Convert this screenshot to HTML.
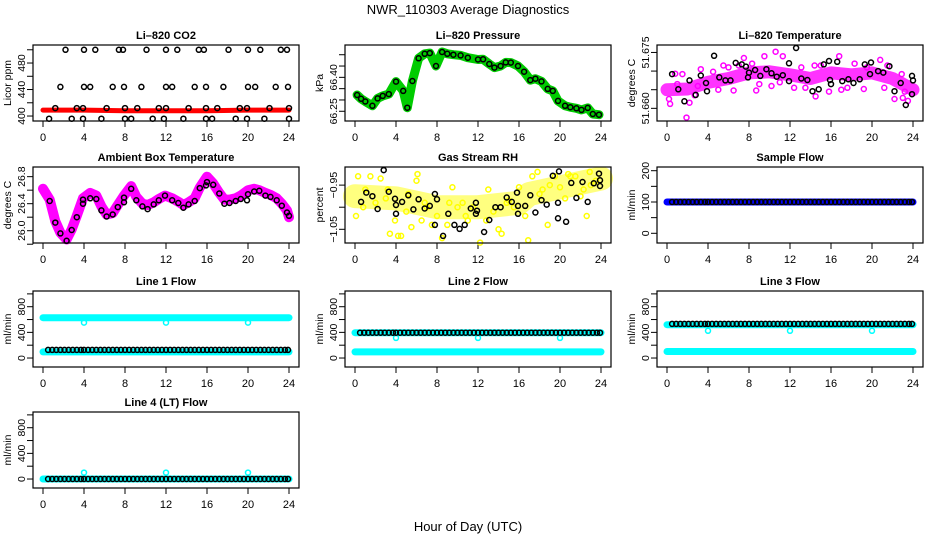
<!DOCTYPE html>
<html><head><meta charset="utf-8"><title>NWR_110303 Average Diagnostics</title>
<style>
html,body{margin:0;padding:0;background:#fff;}
svg{display:block;font-family:"Liberation Sans",Arial,sans-serif;}
</style></head>
<body>
<svg id="chart" width="936" height="540" viewBox="0 0 936 540" xmlns="http://www.w3.org/2000/svg">
<rect x="0" y="0" width="936" height="540" fill="#fff"/>
<text x="468" y="14" font-size="13" text-anchor="middle">NWR_110303  Average Diagnostics</text>
<text x="468" y="531" font-size="13" text-anchor="middle">Hour of Day (UTC)</text>
</svg>
<script>
// ---------- data ----------
const xTicks=[0,4,8,12,16,20,24];
// CO2
const co2Hours=[2.2,4,5.1,7.4,7.8,10.1,12,13.1,15.2,15.7,18.1,20,21.2,23.2,23.8,1.7,4,4.6,6.8,7.9,9.6,12,12.6,14.8,15.9,17.6,20,20.7,22.7,23.9,1.2,3.3,3.9,6.2,8,9.2,11.3,12,14.2,15.9,17,19.2,19.9,22.1,24,0.6,2.8,3.9,5.7,8,8.6,10.7,11.8,13.7,15.9,16.5,18.8,19.9,21.6,24];
const co2Values=[500,500,500,500,500,500,500,500,500,500,500,500,500,500,500,444,444,444,444,444,444,444,444,444,444,444,444,444,444,444,412,412,412,412,412,412,412,412,412,412,412,412,412,412,412,396,396,396,396,396,396,396,396,396,396,396,396,396,396,396];
const co2RedHours=[0,4,8,12,16,20,24];
const co2RedValues=[409,409,408,408,408,409,409];
// Pressure
const presHours=[0.2,0.6,1,1.7,2.2,2.7,3.3,4,4.7,5.1,5.6,6.2,6.8,7.3,7.9,8.5,9,9.6,10.3,11,12,12.5,13.1,13.6,14.2,14.7,15.2,15.9,16.5,17.1,17.6,18.2,18.8,19.3,19.8,20.5,21,21.6,22.1,22.7,23.2,23.8];
const presValues=[66.322,66.305,66.293,66.274,66.307,66.318,66.326,66.381,66.34,66.266,66.384,66.484,66.504,66.507,66.45,66.512,66.504,66.5,66.497,66.487,66.479,66.48,66.459,66.443,66.45,66.466,66.465,66.45,66.425,66.388,66.394,66.382,66.349,66.34,66.296,66.274,66.268,66.263,66.256,66.265,66.238,66.235];
// Li-820 Temperature
const tempBandHours=[0,2,4,6,8,10,12,14,16,18,20,22,24];
const tempBandValues=[51.665,51.6652,51.667,51.668,51.6695,51.6698,51.669,51.668,51.6695,51.669,51.6695,51.668,51.665];
const tempMagHours=[0.2,0.3,0.8,1.5,1.9,2.2,2.7,3.3,4.5,5.5,6.5,7,7.5,8.3,8.7,9.5,10.2,10.6,11.3,12.4,13.1,14.4,14.5,15,15.8,16.8,17.6,18.3,19.2,20.8,21.2,21.5,22.2,22.9,23,23.5,23.2,5,6,13.5,17,19.5,1,3,9,11];
const tempMagValues=[51.6625,51.6612,51.6693,51.6692,51.6575,51.6615,51.6635,51.6705,51.6698,51.6715,51.6648,51.6715,51.6735,51.672,51.6648,51.674,51.666,51.6752,51.674,51.6655,51.671,51.6715,51.6632,51.6715,51.6645,51.674,51.6655,51.672,51.6652,51.673,51.6655,51.6715,51.6625,51.6692,51.6628,51.662,51.6645,51.665,51.671,51.6655,51.665,51.671,51.6665,51.666,51.6665,51.667];
const tempBlkHours=[0.5,1.1,1.7,2.2,2.8,3.3,3.8,3.9,4.6,5.1,5.7,6.2,6.7,7.3,7.7,7.9,8,8.6,9.1,9.7,10.2,10.7,11.3,11.9,11.9,12.6,13.1,13.7,14.2,14.8,15.3,15.8,15.9,16,16.6,17.1,17.7,18.2,18.8,19.3,19.9,19.8,20.6,21.1,21.7,22.2,22.8,23.3,23.9,23.9,24];
const tempBlkValues=[51.6692,51.6651,51.6619,51.6675,51.6636,51.6688,51.6668,51.6646,51.6741,51.6683,51.6675,51.6675,51.6722,51.6718,51.6712,51.6683,51.6696,51.6703,51.6687,51.6705,51.6694,51.6685,51.6689,51.6721,51.6673,51.6762,51.668,51.6676,51.6646,51.6651,51.6718,51.6727,51.6676,51.6665,51.6725,51.6673,51.6678,51.6668,51.6678,51.6718,51.6723,51.6692,51.67,51.6696,51.6713,51.6646,51.6668,51.6609,51.6638,51.6687,51.6675];
// Ambient box temperature
const ambMagHours=[0,0.65,1.2,1.7,2.3,2.8,3.3,3.9,4.6,5.2,5.7,6.2,6.8,7.3,7.9,8.6,9.1,9.7,10.2,10.8,11.3,11.9,12.6,13.2,13.7,14.2,14.8,15.3,16,16.6,17.2,17.7,18.2,18.8,19.3,20,20.6,21.1,21.7,22.2,22.8,23.3,23.8,24];
const ambMagValues=[26.62,26.46,26.14,25.97,25.87,26.02,26.22,26.48,26.56,26.52,26.36,26.24,26.26,26.38,26.52,26.66,26.5,26.4,26.38,26.42,26.47,26.52,26.48,26.43,26.38,26.42,26.48,26.64,26.8,26.7,26.56,26.46,26.46,26.48,26.52,26.6,26.62,26.6,26.56,26.53,26.48,26.4,26.3,26.2];
const ambBlkHours=[0.65,1.2,1.7,2.3,2.8,3.3,3.9,3.9,4.6,5.2,5.7,6.2,6.8,7.3,7.9,7.9,8.6,9.1,9.7,10.2,10.8,11.3,11.9,12.6,13.2,13.7,14.2,14.8,15.3,15.9,16,16.6,17.2,17.7,18.2,18.8,19.3,19.9,20,20.6,21.1,21.7,22.2,22.8,23.3,23.8,24];
const ambBlkValues=[26.44,26.12,25.96,25.85,26.01,26.2,26.46,26.4,26.48,26.47,26.3,26.21,26.24,26.35,26.49,26.42,26.62,26.45,26.36,26.32,26.39,26.45,26.52,26.45,26.41,26.34,26.39,26.44,26.63,26.67,26.72,26.68,26.55,26.4,26.41,26.44,26.47,26.45,26.54,26.58,26.59,26.52,26.5,26.45,26.37,26.27,26.22];
// Gas stream RH
const rhBandHours=[0,4,8,12,16,17,20,24];
const rhBandValues=[-0.975,-0.98,-1.0,-1.0,-0.99,-0.97,-0.955,-0.935];
const rhYelHours=[0.1,0.3,1,1.5,2.5,3.2,3.4,3.9,4.2,4.5,5,5.5,6,6.1,6.5,7,7.5,8.5,9,9.5,10,10.5,11,12.2,12.8,13,14,14.3,15,16,16.6,16.9,17.3,17.8,18.3,18.8,19.5,20,20.8,21.5,22,22.6,22.9,23.5,2,5.2,8,9.2,11.5,13.5,15.5,18,20.5,21,23,0.8,3,6.8,10.8,14.8,19,22.3];
const rhYelValues=[-1.02,-0.93,-0.96,-0.93,-0.935,-0.96,-1.06,-1.03,-1.065,-1.065,-1.01,-1.045,-0.94,-0.925,-1.03,-1.0,-1.04,-1.07,-1.04,-0.955,-1.0,-0.99,-1.03,-1.08,-1.03,-0.96,-1.05,-1.06,-0.985,-0.955,-1.02,-1.075,-0.93,-0.92,-0.96,-1.04,-0.93,-0.955,-0.925,-0.93,-0.975,-1.02,-0.92,-0.94,-0.99,-0.97,-1.02,-0.99,-1.0,-1.01,-1.0,-0.97,-0.98,-0.93,-0.95,-1.0,-0.98,-0.99,-1.02,-0.99,-0.95,-0.96];
const rhBlkHours=[0.6,1.1,1.7,2.2,2.8,3.3,3.9,4,4,4.6,5.2,5.7,6.2,6.8,7.3,7.8,8,7.8,8.6,9.1,9.7,10.2,10.7,11.3,11.8,11.9,11.8,12.6,13.1,13.7,14.2,14.8,15.3,15.8,15.9,15.9,16.6,17.1,17.6,18.2,18.7,19.3,19.8,19.9,19.8,20.6,21.1,21.6,22.2,22.7,23.3,23.8,23.9,23.9];
const rhBlkValues=[-0.988,-0.967,-0.975,-1.004,-0.916,-0.965,-0.981,-0.995,-1.015,-0.988,-0.973,-1.005,-0.982,-1.003,-0.997,-0.97,-0.982,-1.04,-1.065,-1.015,-1.04,-1.049,-1.04,-1.003,-0.99,-1.008,-1.015,-1.056,-1.029,-1.0,-1.0,-0.978,-0.988,-0.967,-0.997,-1.015,-0.997,-0.973,-1.012,-0.984,-0.994,-0.929,-0.99,-0.919,-1.025,-1.033,-0.945,-0.979,-0.943,-0.988,-0.946,-0.924,-0.939,-0.952];
// Flows
const flowBlackTimes=[0.5,0.9,1.3,1.7,2.1,2.5,2.9,3.3,3.7,4.0,4.4,4.8,5.2,5.6,6.0,6.4,6.8,7.2,7.6,8.0,8.4,8.8,9.2,9.6,10.0,10.4,10.8,11.2,11.6,12.0,12.4,12.8,13.2,13.6,14.0,14.4,14.8,15.2,15.6,16.0,16.4,16.8,17.2,17.6,18.0,18.4,18.8,19.2,19.6,20.0,20.4,20.8,21.2,21.6,22.0,22.4,22.8,23.2,23.6,23.9];
const bandHours=[0,24];
const dipHours=[4,12,20];
const sampleBlue=[100,100];   const sampleBlack=[100];
const line1CyanUpper=[628,628]; const line1CyanLower=[96,96]; const line1Black=[127]; const line1Dips=[552,552,552];
const line2CyanUpper=[395,395]; const line2CyanLower=[96,96]; const line2Black=[395]; const line2Dips=[314,314,314];
const line3CyanUpper=[520,520]; const line3CyanLower=[101,101]; const line3Black=[532]; const line3Dips=[425,425,425];
const line4Cyan=[0,0]; const line4Black=[0]; const line4Dips=[100,100,100];

// ---------- drawing ----------
const NS='http://www.w3.org/2000/svg';
const svg=document.getElementById('chart');
function mk(tag,attrs,parent){const e=document.createElementNS(NS,tag);for(const k in attrs)e.setAttribute(k,attrs[k]);(parent||svg).appendChild(e);return e;}
const colLeft=[33,345,657], rowTop=[45,167,291,412], boxW=266, boxH=76;

function panel(p){
  const L=colLeft[p.col], T=rowTop[p.row], B=T+boxH, R=L+boxW;
  const g=mk('g',{});
  
  
  const x=h=>L+10+h/24*246;
  const y=v=>B-(v-p.ymin)/(p.ymax-p.ymin)*boxH;
  const t=mk('text',{x:L+boxW/2,y:T-6,'font-size':11,'font-weight':'bold','text-anchor':'middle'},g);
  t.textContent=p.title;
  
  
  const xa=mk('g',{stroke:'#000','stroke-width':1},g);
  
  
  mk('line',{x1:x(xTicks[0]),y1:B,x2:x(xTicks[xTicks.length-1]),y2:B},xa);
  xTicks.forEach(h=>{
    mk('line',{x1:x(h),y1:B,x2:x(h),y2:B+6},xa);
    const tl=mk('text',{x:x(h),y:B+20,'font-size':11,'text-anchor':'middle',stroke:'none'},g);
    tl.textContent=h;
    
    
  });
  const ya=mk('g',{stroke:'#000','stroke-width':1},g);
  
  
  mk('line',{x1:L,y1:y(p.ticks[0]),x2:L,y2:y(p.ticks[p.ticks.length-1])},ya);
  p.ticks.forEach(v=>mk('line',{x1:L-6,y1:y(v),x2:L,y2:y(v)},ya));
  p.labels.forEach((lab,i)=>{
    const yy=y(p.labelValues[i]);
    const tl=mk('text',{x:L-8,y:yy,'font-size':10.5,'text-anchor':'middle',transform:`rotate(-90 ${L-8} ${yy})`},g);
    tl.textContent=lab;
    
    
  });
  const yl=mk('text',{x:L-22,y:T+boxH/2,'font-size':10.5,'text-anchor':'middle',transform:`rotate(-90 ${L-22} ${T+boxH/2})`},g);
  yl.textContent=p.ylab;
  
  
  const plot=mk('g',{},g);
  
  
  const box=mk('rect',{x:L,y:T,width:boxW,height:boxH,fill:'none',stroke:'#000','stroke-width':1.2},g);
  
  
  return {x,y,plot,name:p.name};
}
function band(P,hs,vs,color,w,nm,op){
  const pts=hs.map((h,i)=>P.x(h).toFixed(1)+','+P.y(vs[i]).toFixed(1)).join(' ');
  const pl=mk('polyline',{points:pts,fill:'none',stroke:color,'stroke-width':w,'stroke-linejoin':'round','stroke-linecap':'round','stroke-opacity':op||1},P.plot);
  
  
}
function points(P,hs,vs,color,nm){
  const g=mk('g',{fill:'none',stroke:color,'stroke-width':1.5},P.plot);
  
  
  hs.forEach((h,i)=>{
    const c=mk('circle',{cx:P.x(h).toFixed(1),cy:P.y(vs[i]).toFixed(1),r:2.5},g);
    
    
  });
}
function levelPoints(P,hs,level,color,nm){points(P,hs,hs.map(()=>level[0]),color,nm);}

// Row 1
let P=panel({col:0,row:0,name:'co2',title:'Li\u2013820 CO2',ylab:'Licor ppm',ymin:392.5,ymax:507.2,ticks:[400,420,440,460,480,500],labels:['400','440','480'],labelValues:[400,440,480]});
band(P,co2RedHours,co2RedValues,'#ff0000',5,'red-series');
points(P,co2Hours,co2Values,'#000','black-series');

P=panel({col:1,row:0,name:'pressure',title:'Li\u2013820 Pressure',ylab:'kPa',ymin:66.207,ymax:66.543,ticks:[66.25,66.30,66.35,66.40,66.45,66.50],labels:['66.25','66.40'],labelValues:[66.25,66.40]});
band(P,presHours,presValues,'#00cc00',9,'green-series');
points(P,presHours,presValues,'#000','black-series');

P=panel({col:2,row:0,name:'li820-temp',title:'Li\u2013820 Temperature',ylab:'degrees C',ymin:51.6566,ymax:51.677,ticks:[51.660,51.665,51.670,51.675],labels:['51.660','51.675'],labelValues:[51.660,51.675]});
band(P,tempBandHours,tempBandValues,'#ff00ff',13,'magenta-band',0.8);
points(P,tempMagHours,tempMagValues,'#ff00ff','magenta-series');
points(P,tempBlkHours,tempBlkValues,'#000','black-series');

// Row 2
P=panel({col:0,row:1,name:'ambient-temp',title:'Ambient Box Temperature',ylab:'degrees C',ymin:25.818,ymax:26.943,ticks:[25.8,26.0,26.2,26.4,26.6,26.8],labels:['26.0','26.4','26.8'],labelValues:[26.0,26.4,26.8]});
band(P,ambMagHours,ambMagValues,'#ff00ff',10,'magenta-series');
points(P,ambBlkHours,ambBlkValues,'#000','black-series');

P=panel({col:1,row:1,name:'gas-rh',title:'Gas Stream RH',ylab:'percent',ymin:-1.081,ymax:-0.909,ticks:[-1.05,-1.0,-0.95],labels:['\u22121.05','\u22120.95'],labelValues:[-1.05,-0.95]});
band(P,rhBandHours,rhBandValues,'#ffff00',24,'yellow-band',0.5);
points(P,rhYelHours,rhYelValues,'#ffff00','yellow-series');
points(P,rhBlkHours,rhBlkValues,'#000','black-series');

P=panel({col:2,row:1,name:'sample-flow',title:'Sample Flow',ylab:'ml/min',ymin:-31,ymax:211.8,ticks:[0,50,100,150,200],labels:['0','100','200'],labelValues:[0,100,200]});
band(P,bandHours,sampleBlue,'#0000ff',7,'blue-series');
levelPoints(P,flowBlackTimes,sampleBlack,'#000','black-series');

// Rows 3-4
const fl={ymin:-140,ymax:1045,ticks:[0,200,400,600,800,1000],labels:['0','400','800'],labelValues:[0,400,800],ylab:'ml/min'};
P=panel(Object.assign({col:0,row:2,name:'line1-flow',title:'Line 1 Flow'},fl));
band(P,bandHours,line1CyanUpper,'#00ffff',7,'cyan-upper');
band(P,bandHours,line1CyanLower,'#00ffff',7,'cyan-lower');
points(P,dipHours,line1Dips,'#00ffff','cyan-dips');
levelPoints(P,flowBlackTimes,line1Black,'#000','black-series');

P=panel(Object.assign({col:1,row:2,name:'line2-flow',title:'Line 2 Flow'},fl));
band(P,bandHours,line2CyanUpper,'#00ffff',7,'cyan-upper');
band(P,bandHours,line2CyanLower,'#00ffff',7,'cyan-lower');
points(P,dipHours,line2Dips,'#00ffff','cyan-dips');
levelPoints(P,flowBlackTimes,line2Black,'#000','black-series');

P=panel(Object.assign({col:2,row:2,name:'line3-flow',title:'Line 3 Flow'},fl));
band(P,bandHours,line3CyanUpper,'#00ffff',7,'cyan-upper');
band(P,bandHours,line3CyanLower,'#00ffff',7,'cyan-lower');
points(P,dipHours,line3Dips,'#00ffff','cyan-dips');
levelPoints(P,flowBlackTimes,line3Black,'#000','black-series');

P=panel(Object.assign({col:0,row:3,name:'line4-flow',title:'Line 4 (LT) Flow'},fl));
band(P,bandHours,line4Cyan,'#00ffff',7,'cyan-series');
points(P,dipHours,line4Dips,'#00ffff','cyan-dips');
levelPoints(P,flowBlackTimes,line4Black,'#000','black-series');
</script>
</body></html>
